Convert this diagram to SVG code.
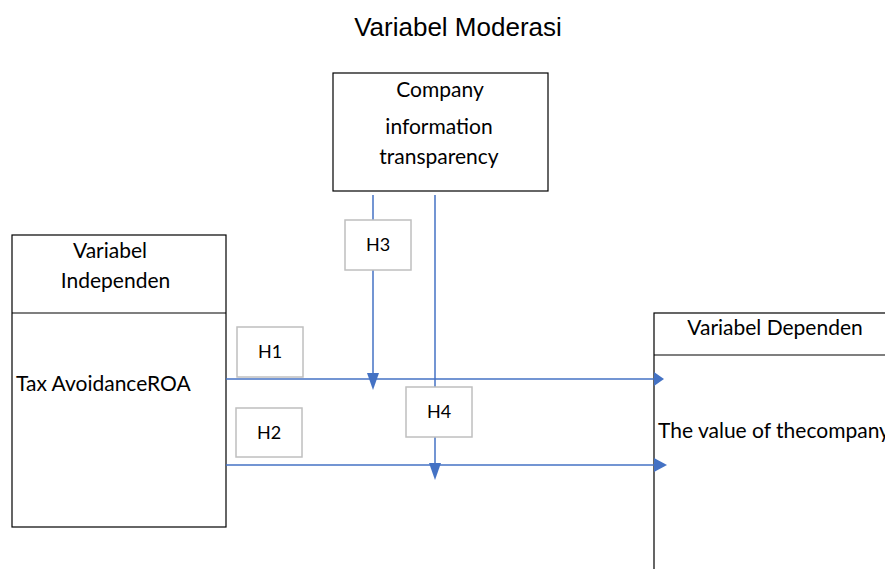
<svg xmlns="http://www.w3.org/2000/svg" width="885" height="569" viewBox="0 0 885 569">
<style>
.box{fill:#fff;stroke:#000;stroke-width:1.2}
.hbox{fill:#fff;stroke:#bfbfbf;stroke-width:1.5}
.t{font-family:Lato,"Open Sans",sans-serif;font-size:21px;fill:#000}
.h{font-family:Lato,"Open Sans",sans-serif;font-size:18px;fill:#000;text-anchor:middle}
.c{stroke:#4472c4;stroke-width:1.5;fill:none}
.ah{fill:#4472c4}
</style>
<rect width="885" height="569" fill="#fff"/>
<text x="458" y="36" font-family="Liberation Sans,Arial,sans-serif" font-size="26" text-anchor="middle">Variabel Moderasi</text>
<g id="moderator">
<rect class="box" x="333" y="73" width="215" height="118"/>
<text class="t" x="440" y="97" text-anchor="middle" font-size="22">Company</text>
<text class="t" x="439" y="134" text-anchor="middle" font-size="22">information</text>
<text class="t" x="439" y="164" text-anchor="middle" font-size="22">transparency</text>
</g>
<g id="independent">
<rect class="box" x="12" y="235" width="214" height="292"/>
<line x1="12" y1="313" x2="226" y2="313" stroke="#000" stroke-width="1.2"/>
<text class="t" x="110" y="258" text-anchor="middle">Variabel</text>
<text class="t" x="115.5" y="288" text-anchor="middle">Independen</text>
<text class="t" x="16" y="391">Tax AvoidanceROA</text>
</g>
<g id="dependent">
<rect class="box" x="654" y="313" width="240" height="270"/>
<line x1="654" y1="355" x2="885" y2="355" stroke="#000" stroke-width="1.2"/>
<text class="t" x="775" y="335" text-anchor="middle">Variabel Dependen</text>
<text class="t" x="658" y="438">The value of thecompany</text>
</g>
<g id="connectors">
<line class="c" x1="373" y1="195" x2="373" y2="376"/>
<line class="c" x1="435" y1="195" x2="435" y2="466"/>
<line class="c" x1="226" y1="379" x2="656" y2="379"/>
<line class="c" x1="226" y1="465" x2="658" y2="465"/>
<polygon class="ah" points="367,373 379,373 373,390"/>
<polygon class="ah" points="429,463 441,463 435,480"/>
<polygon class="ah" points="654,372 654,386 664,379"/>
<polygon class="ah" points="654,458 654,472 667,465"/>
</g>
<g id="h1"><rect class="hbox" x="237" y="327" width="66" height="50"/><text class="h" x="270" y="358">H1</text></g>
<g id="h2"><rect class="hbox" x="236" y="408" width="66" height="49"/><text class="h" x="269" y="439">H2</text></g>
<g id="h3"><rect class="hbox" x="345" y="220" width="66" height="50"/><text class="h" x="378" y="251">H3</text></g>
<g id="h4"><rect class="hbox" x="406" y="387" width="66" height="50"/><text class="h" x="439" y="418">H4</text></g>
</svg>
